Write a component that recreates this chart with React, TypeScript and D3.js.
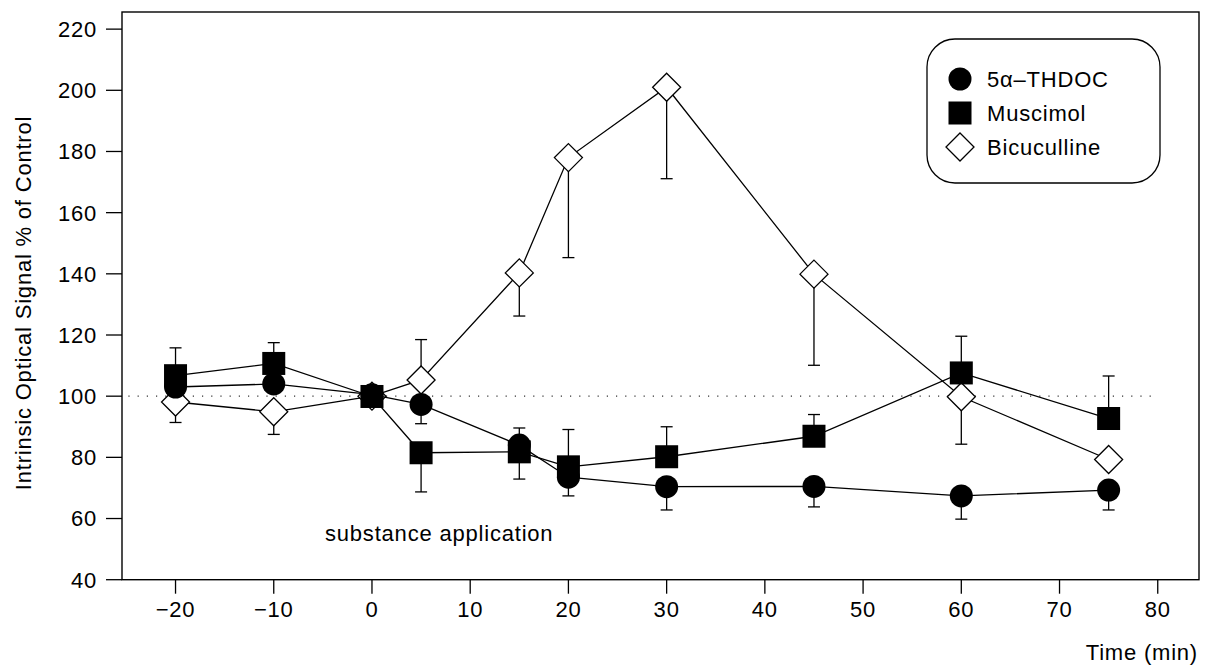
import React from 'react';
import * as d3 from 'd3';

// time points (min)
const times = [-20, -10, 0, 5, 15, 20, 30, 45, 60, 75];

// means, % of control
const thdoc = [103, 104, 100.5, 97.3, 84, 73.5, 70.4, 70.5, 67.4, 69.3];
const muscimol = [106.7, 110.7, 99.9, 81.5, 81.8, 76.9, 80.2, 86.9, 107.6, 92.7];
const bicuculline = [98.1, 94.9, 100, 105.3, 140.3, 178, 201, 139.9, 99.8, 79.3];

// error bar end values (one-sided, as printed); null = no bar shown
const thdocErr = [null, null, null, 91, 89.6, 67.4, 62.8, 63.8, 59.8, 62.8];
const muscimolErr = [115.8, 117.5, null, 68.7, 72.9, 89.1, 90, 94, 119.6, 106.6];
const bicucullineErr = [91.4, 87.5, null, 118.5, 126.2, 145.3, 171.1, 110.1, 84.3, null];

const xTicks = [-20, -10, 0, 10, 20, 30, 40, 50, 60, 70, 80];
const yTicks = [40, 60, 80, 100, 120, 140, 160, 180, 200, 220];

const legendLabels = ['5\u03b1\u2013THDOC', 'Muscimol', 'Bicuculline'];

const font = '"Liberation Sans", Arial, Helvetica, sans-serif';

export default function App() {
  const width = 1205;
  const height = 668;
  const left = 122, right = 1199, top = 12, bottom = 579.7;

  const x = d3.scaleLinear().domain([-25.45, 84.2]).range([left, right]);
  const y = d3.scaleLinear().domain([40, 225.6]).range([bottom, top]);

  const line = d3.line<[number, number]>().x(d => x(d[0])).y(d => y(d[1]));

  const series = [
    { key: 'bic', vals: bicuculline, err: bicucullineErr, shape: 'diamond' },
    { key: 'thdoc', vals: thdoc, err: thdocErr, shape: 'circle' },
    { key: 'mus', vals: muscimol, err: muscimolErr, shape: 'square' },
  ];

  const marker = (shape: string, cx: number, cy: number, k: string) => {
    if (shape === 'circle') return <circle key={k} cx={cx} cy={cy} r={11.5} fill="#000" />;
    if (shape === 'square') return <rect key={k} x={cx - 11.5} y={cy - 11.5} width={23} height={23} fill="#000" />;
    const h = 14;
    return (
      <path key={k} d={`M${cx},${cy - h}L${cx + h},${cy}L${cx},${cy + h}L${cx - h},${cy}Z`}
        fill="#fff" stroke="#000" strokeWidth={1.3} />
    );
  };

  const textStyle = { fontFamily: font, fontSize: 22, letterSpacing: 0.8 } as React.CSSProperties;

  return (
    <svg width={width} height={height} style={{ position: 'absolute', left: 0, top: 0, background: '#fff' }}>
      {/* frame */}
      <rect x={left} y={top} width={right - left} height={bottom - top} fill="none" stroke="#000" strokeWidth={1.4} />

      {/* 100% reference */}
      <line x1={x(-24.8)} x2={x(80)} y1={y(100)} y2={y(100)} stroke="#333" strokeWidth={1.2} strokeDasharray="1.2 8" />

      {/* y axis */}
      {yTicks.map(t => (
        <g key={`y${t}`}>
          <line x1={left - 16} x2={left} y1={y(t)} y2={y(t)} stroke="#000" strokeWidth={1.3} />
          <text x={97} y={y(t)} dy="0.36em" textAnchor="end" style={textStyle}>{t}</text>
        </g>
      ))}

      {/* x axis */}
      {xTicks.map(t => (
        <g key={`x${t}`}>
          <line x1={x(t)} x2={x(t)} y1={bottom} y2={bottom + 14} stroke="#000" strokeWidth={1.3} />
          <text x={x(t)} y={617} textAnchor="middle" style={textStyle}>{t < 0 ? `\u2212${-t}` : t}</text>
        </g>
      ))}

      <text transform="translate(31,303) rotate(-90)" textAnchor="middle" style={textStyle}>
        Intrinsic Optical Signal % of Control
      </text>
      <text x={1198} y={660} textAnchor="end" style={textStyle}>Time (min)</text>
      <text x={325} y={541} style={textStyle}>substance application</text>

      {/* series */}
      {series.map(s => {
        const pts = times.map((t, i) => [t, s.vals[i]] as [number, number]);
        return (
          <g key={s.key}>
            <path d={line(pts) ?? ''} fill="none" stroke="#000" strokeWidth={1.3} />
            {times.map((t, i) => {
              const e = s.err[i];
              if (e == null) return null;
              return (
                <g key={`e${i}`} stroke="#000" strokeWidth={1.3}>
                  <line x1={x(t)} x2={x(t)} y1={y(s.vals[i])} y2={y(e)} />
                  <line x1={x(t) - 6} x2={x(t) + 6} y1={y(e)} y2={y(e)} />
                </g>
              );
            })}
            {times.map((t, i) => marker(s.shape, x(t), y(s.vals[i]), `m${i}`))}
          </g>
        );
      })}

      {/* legend */}
      <rect x={927} y={39} width={233} height={144} rx={28} ry={28} fill="#fff" stroke="#000" strokeWidth={1.3} />
      {legendLabels.map((lab, i) => {
        const ly = 79 + i * 34;
        const shape = ['circle', 'square', 'diamond'][i];
        return (
          <g key={lab}>
            {marker(shape, 960, ly, `lg${i}`)}
            <text x={987} y={ly} dy="0.36em" style={textStyle}>{lab}</text>
          </g>
        );
      })}
    </svg>
  );
}
